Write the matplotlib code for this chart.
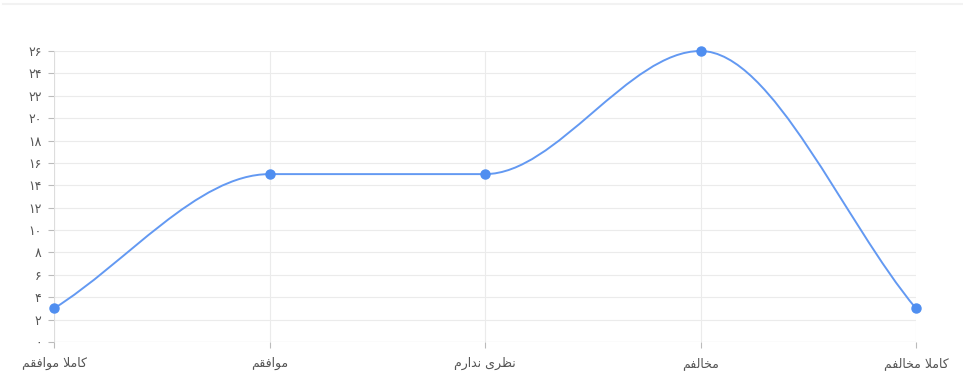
import matplotlib.pyplot as plt
from matplotlib.path import Path
from matplotlib.patches import PathPatch
from matplotlib.lines import Line2D

categories = ['کاملا موافقم', 'موافقم', 'نظری ندارم', 'مخالفم', 'کاملا مخالفم']
values = [3, 15, 15, 26, 3]
y_ticks = list(range(0, 27, 2))

# contextual forms: isolated, final, initial, medial
FORMS = {
    'ا': ('\uFE8D', '\uFE8E', None, None),
    'د': ('\uFEA9', '\uFEAA', None, None),
    'ر': ('\uFEAD', '\uFEAE', None, None),
    'و': ('\uFEED', '\uFEEE', None, None),
    'م': ('\uFEE1', '\uFEE2', '\uFEE3', '\uFEE4'),
    'ل': ('\uFEDD', '\uFEDE', '\uFEDF', '\uFEE0'),
    'ف': ('\uFED1', '\uFED2', '\uFED3', '\uFED4'),
    'ق': ('\uFED5', '\uFED6', '\uFED7', '\uFED8'),
    'ن': ('\uFEE5', '\uFEE6', '\uFEE7', '\uFEE8'),
    'ظ': ('\uFEC5', '\uFEC6', '\uFEC7', '\uFEC8'),
    'خ': ('\uFEA5', '\uFEA6', '\uFEA7', '\uFEA8'),
    'ک': ('\uFB8E', '\uFB8F', '\uFB90', '\uFB91'),
    'ی': ('\uFBFC', '\uFBFD', '\uFBFE', '\uFBFF'),
}


def joins_forward(c):
    return c in FORMS and FORMS[c][2] is not None


def shape_fa(text):
    out = []
    i = 0
    while i < len(text):
        c = text[i]
        prev = text[i - 1] if i > 0 else ''
        nxt = text[i + 1] if i + 1 < len(text) else ''
        if c not in FORMS:
            out.append(c)
            i += 1
            continue
        p = joins_forward(prev)
        if c == 'ل' and nxt == 'ا':
            out.append('\uFEFC' if p else '\uFEFB')
            i += 2
            continue
        n = nxt in FORMS
        iso, fin, ini, med = FORMS[c]
        if p and n and med:
            out.append(med)
        elif p:
            out.append(fin)
        elif n and ini:
            out.append(ini)
        else:
            out.append(iso)
        i += 1
    return ''.join(reversed(out))


def fa_digits(n):
    return str(n).translate(str.maketrans('0123456789', '۰۱۲۳۴۵۶۷۸۹'))


def monotone_path(xs, ys):
    # monotone cubic (Fritsch-Carlson) as bezier segments
    n = len(xs)
    d = [(ys[i + 1] - ys[i]) / (xs[i + 1] - xs[i]) for i in range(n - 1)]
    m = [0.0] * n
    m[0] = d[0]
    m[-1] = d[-1]
    for i in range(1, n - 1):
        if d[i - 1] == 0 or d[i] == 0 or (d[i - 1] > 0) != (d[i] > 0):
            m[i] = 0.0
        else:
            m[i] = (d[i - 1] + d[i]) / 2
    for i in range(n - 1):
        if d[i] == 0:
            m[i] = m[i + 1] = 0.0
            continue
        a, b = m[i] / d[i], m[i + 1] / d[i]
        s = a * a + b * b
        if s > 9:
            t = 3 / s ** 0.5
            m[i] = a * t * d[i]
            m[i + 1] = b * t * d[i]
    verts = [(xs[0], ys[0])]
    codes = [Path.MOVETO]
    for i in range(n - 1):
        dx = (xs[i + 1] - xs[i]) / 3
        verts += [(xs[i] + dx, ys[i] + m[i] * dx),
                  (xs[i + 1] - dx, ys[i + 1] - m[i + 1] * dx),
                  (xs[i + 1], ys[i + 1])]
        codes += [Path.CURVE4] * 3
    return Path(verts, codes)


plt.rcParams['font.family'] = ['DejaVu Sans']
color = '#4f8ef0'

fig = plt.figure(figsize=(9.63, 3.73), dpi=100)
ax = fig.add_axes([54 / 963, 31 / 373, 862 / 963, 291 / 373])

x = list(range(len(categories)))
ax.add_patch(PathPatch(monotone_path(x, values), facecolor='none',
                       edgecolor='#6399f2', lw=1.4, clip_on=False, zorder=3))
ax.plot(x, values, 'o', color=color, ms=6.5, clip_on=False, zorder=4)

ax.set_xlim(0, len(categories) - 1)
ax.set_ylim(0, 26)
ax.set_xticks(x)
ax.set_xticklabels([shape_fa(c) for c in categories])
ax.set_yticks(y_ticks)
ax.set_yticklabels([fa_digits(v) for v in y_ticks])

ax.grid(True, color='#ebebeb', lw=0.8)
ax.set_axisbelow(True)
for s in ax.spines.values():
    s.set_visible(False)
ax.axhline(0, color='#dddddd', lw=0.8, zorder=1)
ax.axvline(0, color='#dddddd', lw=0.8, zorder=1)
ax.tick_params(axis='both', colors='#bbbbbb', length=4, width=0.8,
               labelsize=9, labelcolor='#555555')
ax.tick_params(axis='x', pad=7)
ax.tick_params(axis='y', pad=5)

fig.add_artist(Line2D([3 / 963, 1], [369 / 373, 369 / 373], color='#f2f2f2', lw=1.5))

fig.savefig('out.png', dpi=100)
